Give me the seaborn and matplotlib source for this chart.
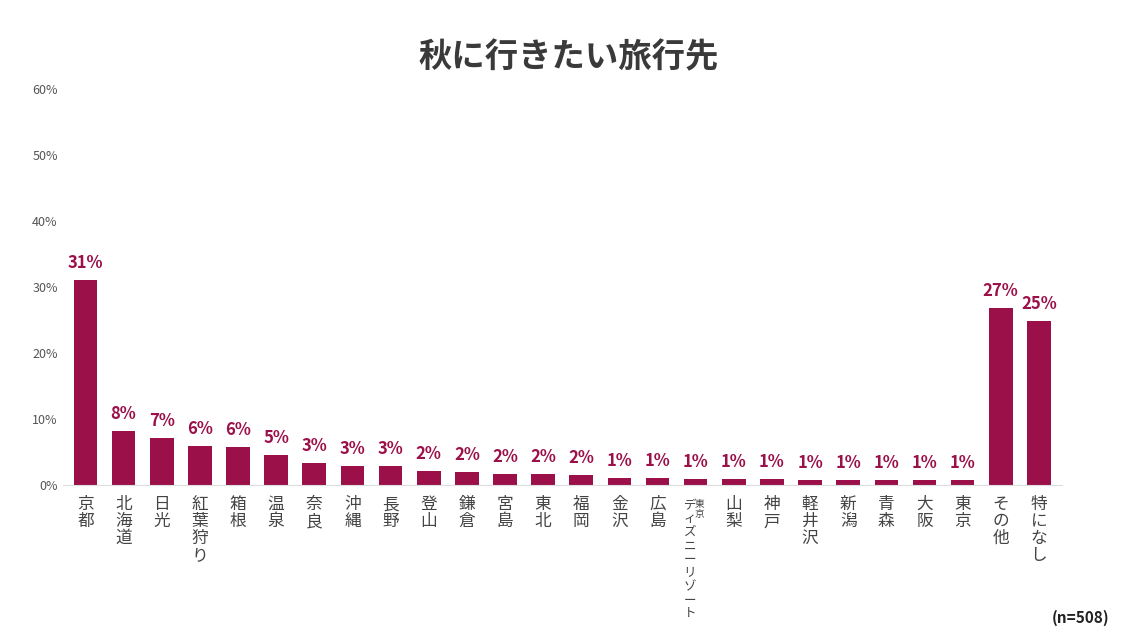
import matplotlib
matplotlib.use("Agg")
import matplotlib.pyplot as plt
import matplotlib.transforms as mtransforms
import seaborn as sns
import pandas as pd

plt.rcParams["font.family"] = "Noto Sans CJK JP"

places = ["京都", "北海道", "日光", "紅葉狩り", "箱根", "温泉", "奈良", "沖縄", "長野", "登山",
          "鎌倉", "宮島", "東北", "福岡", "金沢", "広島", "東京ディズニーリゾート", "山梨", "神戸",
          "軽井沢", "新潟", "青森", "大阪", "東京", "その他", "特になし"]
values = [31.1, 8.2, 7.1, 5.9, 5.8, 4.5, 3.3, 2.9, 2.9, 2.1,
          2.0, 1.7, 1.7, 1.5, 1.1, 1.1, 0.9, 0.9, 0.9,
          0.8, 0.8, 0.8, 0.8, 0.8, 26.8, 24.9]
labels = ["31%", "8%", "7%", "6%", "6%", "5%", "3%", "3%", "3%", "2%",
          "2%", "2%", "2%", "2%", "1%", "1%", "1%", "1%", "1%",
          "1%", "1%", "1%", "1%", "1%", "27%", "25%"]

df = pd.DataFrame({"place": places, "value": values})
color = "#9b1049"

fig = plt.figure(figsize=(11.38, 6.4), dpi=100)
ax = fig.add_axes([0.055, 0.242, 0.878, 0.619])
sns.barplot(data=df, x="place", y="value", color=color, width=0.62, ax=ax, saturation=1)

ax.set_ylim(0, 60)
ax.set_yticks(range(0, 61, 10))
ax.set_yticklabels([f"{v}%" for v in range(0, 61, 10)], fontsize=9, color="#555555")
ax.set_xlim(-0.6, len(places) - 0.4)
for s in ["top", "right", "left"]:
    ax.spines[s].set_visible(False)
ax.spines["bottom"].set_color("#dddddd")
ax.tick_params(axis="both", length=0)
ax.set_xlabel("")
ax.set_ylabel("")

ticklabels = ["\n".join(p) if p != "東京ディズニーリゾート" else "" for p in places]
ax.set_xticks(range(len(places)))
ax.set_xticklabels(ticklabels, fontsize=12, color="#444444", rotation=0,
                   va="top", linespacing=1.0)
ax.tick_params(axis="x", pad=8)

# special two-part label for Tokyo Disney Resort
trans = mtransforms.blended_transform_factory(ax.transData, ax.transAxes)
i = places.index("東京ディズニーリゾート")
ax.text(i + 0.1, -0.035, "東\n京", transform=trans, fontsize=7, color="#444444",
        ha="center", va="top", linespacing=1.0)
ax.text(i - 0.15, -0.035, "\n".join("ディズニーリゾート"), transform=trans, fontsize=9,
        color="#444444", ha="center", va="top", linespacing=1.05)

for k, (v, lab) in enumerate(zip(values, labels)):
    ax.text(k, v + 1.2, lab, ha="center", va="bottom", fontsize=12,
            fontweight="bold", color=color)

fig.text(0.5, 0.91, "秋に行きたい旅行先", ha="center", va="center",
         fontsize=24, fontweight="bold", color="#3a3a3a")
fig.text(0.975, 0.035, "(n=508)", ha="right", va="center", fontsize=11,
         fontweight="bold", color="#222222")

fig.savefig("out.png", dpi=100)
